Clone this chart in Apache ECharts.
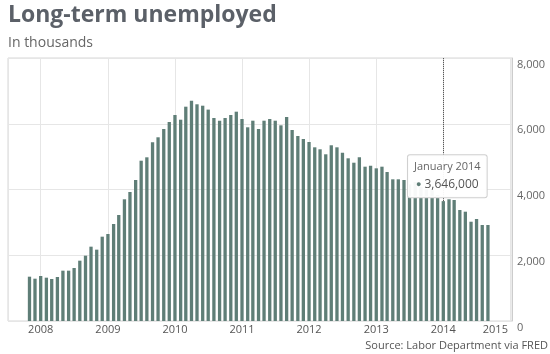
<!DOCTYPE html>
<html><head><meta charset="utf-8">
<script src="https://cdn.jsdelivr.net/npm/echarts@6/dist/echarts.min.js"></script>
<style>html,body{margin:0;padding:0;background:#fff}#c{width:550px;height:354px}</style>
</head><body><div id="c"></div>
<script>
const titleText = 'Long-term unemployed';
const subtitleText = 'In thousands';
const sourceText = 'Source: Labor Department via FRED';

const months = [
 '2007-11','2007-12',
 '2008-01','2008-02','2008-03','2008-04','2008-05','2008-06','2008-07','2008-08','2008-09','2008-10','2008-11','2008-12',
 '2009-01','2009-02','2009-03','2009-04','2009-05','2009-06','2009-07','2009-08','2009-09','2009-10','2009-11','2009-12',
 '2010-01','2010-02','2010-03','2010-04','2010-05','2010-06','2010-07','2010-08','2010-09','2010-10','2010-11','2010-12',
 '2011-01','2011-02','2011-03','2011-04','2011-05','2011-06','2011-07','2011-08','2011-09','2011-10','2011-11','2011-12',
 '2012-01','2012-02','2012-03','2012-04','2012-05','2012-06','2012-07','2012-08','2012-09','2012-10','2012-11','2012-12',
 '2013-01','2013-02','2013-03','2013-04','2013-05','2013-06','2013-07','2013-08','2013-09','2013-10','2013-11','2013-12',
 '2014-01','2014-02','2014-03','2014-04','2014-05','2014-06','2014-07','2014-08','2014-09'
];
const values = [
 1348,1287,
 1369,1318,1278,1338,1531,1531,1612,1835,1987,2261,2170,2565,
 2646,2951,3224,3702,3924,4289,4876,4979,5436,5588,5840,6053,
 6266,6123,6519,6701,6592,6549,6430,6175,6093,6175,6266,6367,
 6144,5892,6093,5840,6093,6144,6093,5952,6205,5810,5627,5536,
 5445,5283,5223,5071,5345,5283,5120,4949,4815,4979,4694,4724,
 4644,4694,4532,4310,4310,4289,4150,4230,4080,4010,3980,3830,
 3646,3702,3680,3376,3325,3020,3103,2920,2920
];
const yTicks = [0, 2000, 4000, 6000, 8000];
const highlightMonth = '2014-01';
const highlightLabel = 'January 2014';
const xMaxYear = 2015;

function ts(m){ const p = m.split('-'); return Date.UTC(+p[0], +p[1]-1, 1); }
function comma(n){ return String(n).replace(/\B(?=(\d{3})+(?!\d))/g, ','); }

const hiIdx = months.indexOf(highlightMonth);
const hiVal = values[hiIdx];
const barColor = '#5f7e77';

const chart = echarts.init(document.getElementById('c'), null, {renderer:'canvas'});
chart.setOption({
  animation: false,
  useUTC: true,
  textStyle: {fontFamily: 'Open Sans'},
  title: [
    {text: titleText, left: 8, top: 4, padding: 0,
     textStyle: {fontSize: 23, fontWeight: 'bold', color: '#5b6068', fontFamily: 'Open Sans'}},
    {text: subtitleText, left: 8, top: 36, padding: 0,
     textStyle: {fontSize: 14, fontWeight: 'normal', color: '#666', fontFamily: 'Open Sans'}},
    {text: sourceText, right: 2, bottom: 3, padding: 0,
     textStyle: {fontSize: 11, fontWeight: 'normal', color: '#555', fontFamily: 'Open Sans'}}
  ],
  grid: {left: 8, right: 38, top: 58, bottom: 33, show: true, borderColor: '#d6d6d6', borderWidth: 1},
  xAxis: {
    type: 'time',
    min: Date.UTC(2007, 6, 16),
    max: Date.UTC(xMaxYear, 0, 1),
    minInterval: 365 * 864e5,
    maxInterval: 366 * 864e5,
    axisLine: {show: false},
    axisTick: {show: false},
    splitLine: {show: true, lineStyle: {color: '#e6e6e6', width: 1}},
    axisLabel: {
      formatter: v => {
        const y = new Date(v).getUTCFullYear();
        return y === xMaxYear ? '{r|' + y + '}' : String(y);
      },
      rich: {r: {fontSize: 11, color: '#555', fontFamily: 'Open Sans', padding: [0, 30, 0, 0]}},
      color: '#555', fontSize: 11, margin: 3, fontFamily: 'Open Sans',
      showMinLabel: false
    }
  },
  yAxis: {
    type: 'value', position: 'right', min: yTicks[0], max: yTicks[yTicks.length-1],
    interval: yTicks[1] - yTicks[0],
    axisLine: {show: true, lineStyle: {color: '#cccccc'}},
    axisTick: {show: false},
    splitLine: {lineStyle: {color: '#e6e6e6'}},
    axisLabel: {formatter: v => comma(v), color: '#666', fontSize: 11, margin: 5,
      verticalAlign: 'top', padding: [1, 0, 0, 0], fontFamily: 'Open Sans'}
  },
  series: [{
    type: 'bar',
    data: months.map((m, i) => [ts(m), values[i]]),
    barWidth: 3.3,
    itemStyle: {color: barColor},
    markLine: {
      silent: true, symbol: ['none', 'none'], z: 5,
      label: {show: false},
      lineStyle: {type: 'dotted', color: '#444', width: 1},
      data: [[{coord: [ts(highlightMonth), hiVal]}, {coord: [ts(highlightMonth), yTicks[yTicks.length-1]]}]]
    },
    markPoint: {
      silent: true, z: 10,
      symbol: 'circle', symbolSize: 0,
      data: [{coord: [ts(highlightMonth), hiVal], value: hiVal}],
      label: {
        show: true, position: 'top', distance: 4, offset: [4, 0],
        formatter: () => '{a|' + highlightLabel + '}\n{d|●} {b|' + comma(hiVal * 1000) + '}',
        backgroundColor: 'rgba(255,255,255,0.95)', borderColor: '#cfcfcf', borderWidth: 1,
        padding: [4, 6, 4, 6], borderRadius: 2,
        rich: {
          a: {fontSize: 11, color: '#666', lineHeight: 16, fontFamily: 'Open Sans'},
          d: {fontSize: 9, color: barColor, lineHeight: 18, fontFamily: 'Open Sans'},
          b: {fontSize: 12, color: '#555', lineHeight: 18, fontFamily: 'Open Sans'}
        }
      }
    }
  }]
});
</script></body></html>
